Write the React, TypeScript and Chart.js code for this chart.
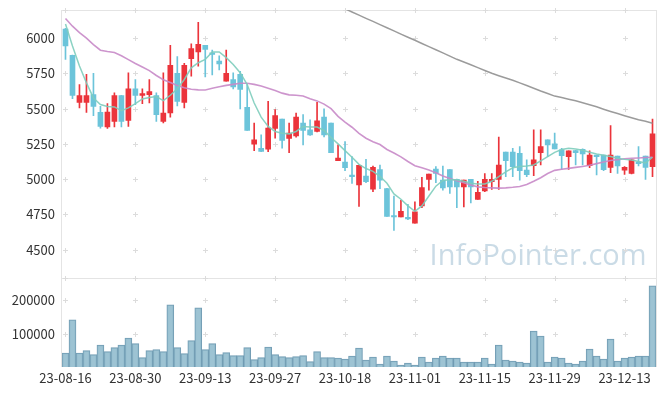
import React, { useEffect, useRef } from 'react';
import { Chart, registerables } from 'chart.js';

Chart.register(...registerables);

const dates = [
  '23-08-16','23-08-17','23-08-18','23-08-21','23-08-22','23-08-23','23-08-24','23-08-25','23-08-28','23-08-29',
  '23-08-30','23-08-31','23-09-01','23-09-04','23-09-05','23-09-06','23-09-07','23-09-08','23-09-11','23-09-12',
  '23-09-13','23-09-14','23-09-15','23-09-18','23-09-19','23-09-20','23-09-21','23-09-22','23-09-25','23-09-26',
  '23-09-27','23-10-04','23-10-05','23-10-06','23-10-10','23-10-11','23-10-12','23-10-13','23-10-16','23-10-17',
  '23-10-18','23-10-19','23-10-20','23-10-23','23-10-24','23-10-25','23-10-26','23-10-27','23-10-30','23-10-31',
  '23-11-01','23-11-02','23-11-03','23-11-06','23-11-07','23-11-08','23-11-09','23-11-10','23-11-13','23-11-14',
  '23-11-15','23-11-16','23-11-17','23-11-20','23-11-21','23-11-22','23-11-23','23-11-24','23-11-27','23-11-28',
  '23-11-29','23-11-30','23-12-01','23-12-04','23-12-05','23-12-06','23-12-07','23-12-08','23-12-11','23-12-12',
  '23-12-13','23-12-14','23-12-15','23-12-18','23-12-19',
];

const opens = [
  6064,5879,5545,5545,5600,5474,5370,5410,5593,5416,
  5641,5593,5600,5593,5410,5469,5750,5545,5855,5902,
  5950,5893,5838,5695,5707,5743,5510,5248,5219,5212,
  5360,5426,5288,5307,5398,5350,5338,5441,5398,5131,
  5121,5025,4959,5021,4929,5067,4933,4740,4731,4724,
  4688,4809,4998,5071,4993,5067,4998,4945,4998,4855,
  4917,4981,4998,5191,5191,5183,5064,5095,5188,5279,
  5250,5207,5159,5202,5212,5095,5166,5171,5083,5164,
  5064,5040,5120,5164,5088,
];
const highs = [
  6070,5880,5671,5743,5750,5516,5536,5612,5595,5755,
  5707,5640,5707,5612,5755,5950,5870,5822,5960,6112,
  5950,5915,5875,5916,5755,5765,5670,5398,5314,5552,
  5493,5426,5398,5469,5457,5421,5545,5498,5398,5243,
  5267,5160,5100,5140,5093,5100,4935,4879,4850,4821,
  4838,5012,5036,5088,5093,5067,5000,4993,4998,4985,
  5040,5040,5298,5191,5219,5231,5136,5350,5350,5279,
  5326,5219,5200,5205,5215,5200,5170,5171,5379,5164,
  5088,5140,5231,5164,5426,
];
const lows = [
  5850,5570,5505,5474,5450,5362,5360,5370,5370,5374,
  5529,5535,5540,5410,5398,5440,5520,5505,5730,5802,
  5726,5740,5774,5695,5640,5498,5345,5202,5195,5195,
  5290,5219,5188,5298,5243,5310,5335,5300,5188,5131,
  5060,4970,4807,4975,4910,4933,4736,4636,4731,4712,
  4688,4798,4921,4975,4921,4898,4798,4802,4831,4855,
  4910,4926,4926,5017,5017,4993,5017,5024,5100,5159,
  5214,5069,5069,5100,5100,5081,5030,5060,5045,5040,
  5033,5036,5093,4998,5017,
];
const closes = [
  5945,5593,5593,5593,5516,5374,5476,5593,5410,5641,
  5593,5607,5621,5457,5469,5807,5552,5807,5926,5957,
  5921,5885,5817,5750,5655,5636,5345,5279,5197,5362,
  5450,5274,5326,5441,5345,5314,5414,5314,5188,5150,
  5081,5018,5098,4981,5083,4993,4736,4731,4771,4718,
  4767,4940,5036,5041,4938,4945,4945,4993,4945,4907,
  4998,4998,5100,5131,5088,5060,5031,5136,5231,5243,
  5214,5167,5200,5188,5179,5171,5160,5067,5171,5093,
  5083,5136,5110,5083,5321,
];
const volumes = [
  42000,142000,42000,49000,37000,66000,46000,58000,66000,87000,
  70000,28000,49000,52000,46000,187000,58000,40000,79000,178000,
  52000,70000,37000,43000,34000,34000,58000,22000,28000,60000,
  37000,31000,28000,31000,34000,16000,46000,28000,28000,27000,
  24000,33000,57000,21000,30000,9000,33000,18000,6000,12000,
  6000,30000,15000,27000,33000,27000,27000,15000,15000,15000,
  27000,9000,66000,21000,18000,15000,12000,108000,93000,15000,
  30000,27000,12000,9000,18000,54000,33000,24000,84000,18000,
  27000,30000,33000,33000,244000,
];
const ma5 = [
  6100,5945,5802,5683,5576,5529,5516,5512,5486,5505,
  5536,5569,5579,5586,5557,5595,5641,5707,5790,5826,
  5850,5902,5902,5862,5814,5755,5671,5540,5440,5374,
  5338,5326,5321,5338,5374,5369,5369,5345,5295,5250,
  5202,5155,5105,5075,5055,5020,4970,4895,4857,4810,
  4772,4810,4880,4950,4990,4995,4995,4985,4970,4965,
  4965,4985,5017,5052,5080,5090,5093,5100,5130,5160,
  5190,5210,5219,5214,5205,5190,5178,5170,5160,5148,
  5140,5136,5125,5115,5155,
];
const ma20 = [
  6140,6085,6040,6000,5955,5915,5905,5898,5875,5848,
  5820,5795,5770,5735,5705,5685,5665,5648,5638,5633,
  5632,5645,5655,5665,5672,5680,5680,5672,5660,5645,
  5628,5610,5598,5595,5590,5570,5555,5532,5500,5445,
  5405,5368,5325,5290,5265,5245,5210,5185,5158,5125,
  5095,5080,5065,5045,5022,5005,4988,4974,4958,4945,
  4940,4938,4936,4938,4942,4948,4962,4985,5010,5040,
  5062,5070,5076,5083,5090,5098,5110,5122,5132,5138,
  5144,5148,5150,5153,5155,
];
const ma60 = [
  null,null,null,null,null,null,null,null,null,null,
  null,null,null,null,null,null,null,null,null,null,
  null,null,null,null,null,null,null,null,null,null,
  null,null,null,null,null,null,null,null,null,6231,
  6209,6186,6164,6141,6119,6096,6074,6052,6029,6007,
  5985,5962,5940,5918,5896,5873,5850,5831,5811,5791,
  5771,5751,5734,5718,5701,5683,5664,5645,5625,5607,
  5589,5579,5567,5556,5542,5528,5513,5496,5480,5465,
  5450,5435,5421,5410,5396,
];

const priceTicks = [4500, 4750, 5000, 5250, 5500, 5750, 6000];
const volumeTicks = [100000, 200000];
const watermark = 'InfoPointer.com';

const RED = '#eb343b';
const BLUE = '#6cc4da';
const FONT = "'Noto Sans CJK KR', 'Noto Sans', sans-serif";

const crisp = (v: number) => Math.round(v) + 0.5;

const decor = {
  id: 'decor',
  beforeDatasetsDraw(chart: any) {
    const { ctx, chartArea: a, scales } = chart;
    const xs = scales.x, ys = scales.y, yv = scales.yv;
    ctx.save();
    // watermark
    ctx.font = `100px 'Open Sans', 'Noto Sans', sans-serif`;
    const w = ctx.measureText(watermark).width;
    const size = (100 * 217) / w;
    ctx.font = `${size}px 'Open Sans', 'Noto Sans', sans-serif`;
    ctx.fillStyle = '#cadbe6';
    ctx.textAlign = 'right';
    ctx.textBaseline = 'alphabetic';
    ctx.fillText(watermark, a.right - 9.5, ys.bottom - 13);

    // frame lines
    ctx.strokeStyle = '#e4e4e4';
    ctx.lineWidth = 1;
    ctx.beginPath();
    ctx.moveTo(a.left, crisp(a.top));
    ctx.lineTo(a.right, crisp(a.top));
    ctx.moveTo(a.left, crisp(ys.bottom));
    ctx.lineTo(a.right, crisp(ys.bottom));
    ctx.moveTo(crisp(a.right), a.top);
    ctx.lineTo(crisp(a.right), a.bottom);
    ctx.moveTo(crisp(a.left - 1), a.top);
    ctx.lineTo(crisp(a.left - 1), a.bottom);
    ctx.stroke();

    // cross grid marks
    ctx.strokeStyle = '#dcdcdc';
    const xp: number[] = [];
    dates.forEach((_, i) => { if (i % 10 === 0) xp.push(xs.getPixelForValue(i)); });
    const yp: number[] = [
      ...priceTicks.map((v) => ys.getPixelForValue(v)),
      ...volumeTicks.map((v) => yv.getPixelForValue(v)),
      a.top,
      ys.bottom,
    ];
    ctx.beginPath();
    for (const px of xp) {
      for (const py of yp) {
        const cx = crisp(px), cy = crisp(py);
        ctx.moveTo(cx - 2.5, cy);
        ctx.lineTo(cx + 2.5, cy);
        ctx.moveTo(cx, cy - 2.5);
        ctx.lineTo(cx, cy + 2.5);
      }
    }
    ctx.stroke();
    ctx.restore();
  },
};

export default function App() {
  const ref = useRef<HTMLCanvasElement>(null);
  useEffect(() => {
    const colors = closes.map((c, i) => (c >= opens[i] ? RED : BLUE));
    Chart.defaults.font.family = FONT;
    Chart.defaults.font.size = 13;
    Chart.defaults.color = '#333';
    const tickFont = { size: 13, family: FONT };
    const fitY = (s: any) => { s.width = 54; s.paddingTop = 0; s.paddingBottom = 0; };
    const chart = new Chart(ref.current as HTMLCanvasElement, {
      type: 'bar',
      data: {
        labels: dates,
        datasets: [
          {
            type: 'line',
            label: 'MA5',
            data: ma5,
            yAxisID: 'y',
            borderColor: 'rgba(126,205,188,0.9)',
            borderWidth: 1.5,
            pointRadius: 0,
            tension: 0,
            order: 0,
          },
          {
            type: 'line',
            label: 'MA20',
            data: ma20,
            yAxisID: 'y',
            borderColor: 'rgba(200,138,200,0.9)',
            borderWidth: 1.6,
            pointRadius: 0,
            tension: 0,
            order: 0,
          },
          {
            type: 'line',
            label: 'MA60',
            data: ma60,
            yAxisID: 'y',
            borderColor: 'rgba(150,150,150,0.95)',
            borderWidth: 1.5,
            pointRadius: 0,
            tension: 0,
            spanGaps: false,
            order: 0,
          },
          {
            label: 'body',
            data: opens.map((o, i) => [o, closes[i]]),
            yAxisID: 'y',
            backgroundColor: colors,
            borderWidth: 0,
            barThickness: 5,
            minBarLength: 1.5,
            grouped: false,
            order: 1,
          },
          {
            label: 'wick',
            data: lows.map((l, i) => [l, highs[i]]),
            yAxisID: 'y',
            backgroundColor: colors,
            borderWidth: 0,
            barThickness: 1,
            grouped: false,
            order: 2,
          },
          {
            label: 'volume',
            data: volumes,
            yAxisID: 'yv',
            backgroundColor: 'rgba(146,188,206,0.9)',
            borderColor: 'rgba(108,152,176,0.95)',
            borderWidth: 1,
            barPercentage: 1,
            categoryPercentage: 1,
            grouped: false,
            order: 3,
          },
        ],
      },
      options: {
        animation: false,
        responsive: false,
        maintainAspectRatio: false,
        layout: { padding: { top: 2, right: 1, left: 0, bottom: 0 } },
        plugins: { legend: { display: false }, tooltip: { enabled: false } },
        scales: {
          x: {
            type: 'category',
            offset: true,
            grid: { display: false, drawTicks: false },
            border: { display: false },
            ticks: {
              autoSkip: false,
              maxRotation: 0,
              minRotation: 0,
              padding: 3,
              color: '#333',
              font: tickFont,
              callback: (v: any, i: number) => (i % 10 === 0 ? dates[i] : ''),
            },
            afterFit: (s: any) => { s.height = 29; s.paddingLeft = 0; s.paddingRight = 0; },
          },
          yv: {
            type: 'linear',
            position: 'left',
            stack: 'panes',
            stackWeight: 1,
            min: 0,
            max: 268000,
            grid: { display: false, drawTicks: false },
            border: { display: false },
            ticks: { padding: 7, color: '#333', font: tickFont, callback: (v: any) => String(v) },
            afterBuildTicks: (s: any) => { s.ticks = volumeTicks.map((v) => ({ value: v })); },
            afterFit: fitY,
          },
          y: {
            type: 'linear',
            position: 'left',
            stack: 'panes',
            stackWeight: 3,
            min: 4300,
            max: 6200,
            grid: { display: false, drawTicks: false },
            border: { display: false },
            ticks: { padding: 7, color: '#333', font: tickFont, callback: (v: any) => String(v) },
            afterBuildTicks: (s: any) => { s.ticks = priceTicks.map((v) => ({ value: v })); },
            afterFit: fitY,
          },
        },
      },
      plugins: [decor],
    } as any);
    return () => chart.destroy();
  }, []);
  return (
    <div style={{ width: 649, height: 388 }}>
      <canvas ref={ref} width={649} height={388} style={{ display: 'block' }} />
    </div>
  );
}
